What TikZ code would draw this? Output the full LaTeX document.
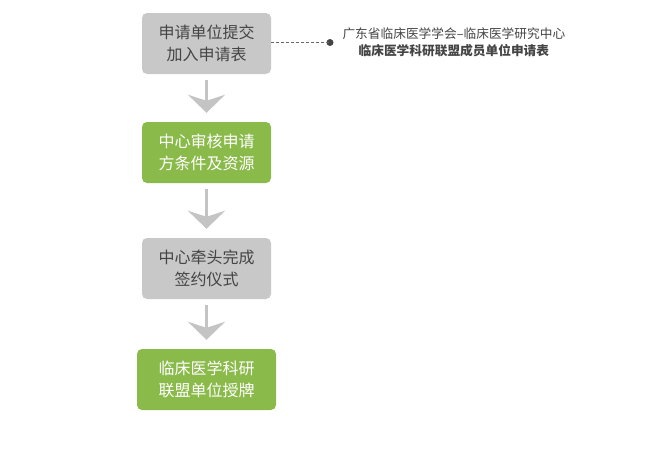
\documentclass[tikz,border=0pt]{standalone}
\usepackage{fontspec}
\setmainfont{Noto Sans CJK SC}
\usepackage{tikz}
\usetikzlibrary{arrows.meta,positioning}
\definecolor{boxgrey}{HTML}{C8C8C8}
\definecolor{boxgreen}{HTML}{8ABA4A}
\definecolor{txtgrey}{HTML}{444444}
\definecolor{arrowgrey}{HTML}{C4C4C4}

\begin{document}
\begin{tikzpicture}[x=1pt, y=1pt,
    box/.style={rounded corners=5pt, minimum width=129pt, minimum height=61pt, align=center,
        font=\fontsize{16}{22}\selectfont, inner sep=0pt},
    greybox/.style={box, fill=boxgrey, text=txtgrey},
    greenbox/.style={box, fill=boxgreen, text=white},
    flow/.style={arrowgrey, line width=3pt, -{Stealth[length=18pt, width=37pt, inset=6pt]},
        shorten <=6pt, shorten >=9pt}] %流程箭头
    \useasboundingbox (0,0) rectangle (651,-464);
    %%四个流程框
    \node[greybox] (apply) at (206.5,-43.5) {申请单位提交\\加入申请表};
    \node[greenbox] (review) at (206.5,-152.5) {中心审核申请\\方条件及资源};
    \node[greybox] (sign) at (206.5,-268.5) {中心牵头完成\\签约仪式};
    \node[greenbox, minimum width=139pt] (award) at (206.5,-379.5) {临床医学科研\\联盟单位授牌};
    \draw[flow] (apply) -- (review);
    \draw[flow] (review) -- (sign);
    \draw[flow] (sign) -- (award);
    %%右侧说明
    \fill[txtgrey] (330,-42.5) circle [radius=3.5pt] coordinate (dot);
    \draw[txtgrey!80, dashed, dash pattern=on 2.5pt off 2.5pt, line width=0.8pt] (apply.east |- dot) -- (dot);
    \node[right=9pt of dot, align=center, text=txtgrey, font=\fontsize{12.7}{17}\selectfont] (form)
        {广东省临床医学学会–临床医学研究中心\\\textbf{临床医学科研联盟成员单位申请表}};
\end{tikzpicture}
\end{document}
